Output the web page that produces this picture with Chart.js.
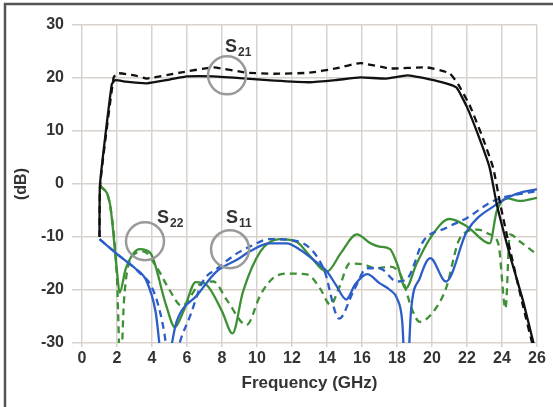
<!DOCTYPE html>
<html>
<head>
<meta charset="utf-8">
<script src="https://cdn.jsdelivr.net/npm/chart.js@4.4.1/dist/chart.umd.min.js"></script>
<style>
  html, body { margin: 0; padding: 0; background: #fff; }
  #wrap { width: 553px; height: 407px; position: relative; }
</style>
</head>
<body>
<div id="wrap"><canvas id="c" width="553" height="407"></canvas></div>
<script>
// ── data (GHz / dB) ─────────────────────────────────────
const xTicks = [0, 2, 4, 6, 8, 10, 12, 14, 16, 18, 20, 22, 24, 26];
const yTicks = [-30, -20, -10, 0, 10, 20, 30];

const s21SolidF  = [1.0, 1.03, 1.7, 1.9, 2.5, 3.7, 5.0, 6.0, 7.5, 9.4, 11, 13, 14.5, 15.9, 17.4, 18.6, 19.8, 20.8, 21.4, 22.0, 22.7, 23.3, 23.7, 24.5, 25.2, 25.8, 26.0];
const s21SolidDb = [-10, 0, 18.8, 19.6, 19.3, 19.0, 19.7, 20.3, 20.3, 19.9, 19.5, 19.2, 19.6, 20.1, 19.9, 20.5, 19.8, 19.0, 18.2, 14.5, 8.7, 3, -3.8, -14, -22, -30, -32];

const s21DashF  = [1.0, 1.04, 1.8, 2.0, 3.0, 3.7, 5.6, 7.5, 9.4, 11, 13, 14.5, 15.9, 17.6, 19.7, 21.0, 21.5, 22.2, 22.9, 23.5, 23.9, 24.5, 25.2, 25.8, 26.0];
const s21DashDb = [-10, 0, 20.0, 20.9, 20.5, 19.9, 21.0, 22.0, 21.0, 20.8, 21.0, 21.8, 22.8, 21.8, 22.0, 20.9, 18.8, 14.5, 8.7, 3, -3.8, -13, -23, -31, -33];

const s11SolidF  = [1.0, 2.3, 3.0, 3.7, 4.2, 4.7, 5.4, 6.6, 7.7, 8.9, 9.6, 10.7, 11.7, 12.5, 13.3, 14.0, 14.5, 15.1, 15.6, 16.3, 17.0, 17.6, 18.0, 18.3, 18.53, 18.8, 19.3, 19.9, 20.8, 22.0, 23.7, 24.5, 25.2, 26.0];
const s11SolidDb = [-10.4, -14, -15.8, -18.4, -24, -36, -26, -20.9, -16.5, -14.2, -12.7, -11.2, -11.2, -12.5, -14.5, -16.5, -19, -21.8, -19, -17, -18.7, -20, -21.6, -26, -40, -24, -17.8, -14, -18.4, -8.9, -3.8, -2.3, -1.5, -1];

const s11DashF  = [1.0, 2.3, 3.2, 4.1, 4.7, 5.1, 5.5, 6.2, 6.9, 7.7, 8.9, 9.6, 10.7, 12.3, 13.8, 14.7, 15.5, 16.3, 17.0, 18.0, 18.6, 19.5, 20.8, 22.0, 23.5, 26.0];
const s11DashDb = [-10.4, -14, -16.5, -20.3, -28, -38, -31, -24.7, -18.4, -16, -13, -11.8, -10.4, -10.8, -15.9, -25.4, -20.3, -15.9, -15.9, -18.4, -17.8, -10.8, -8.3, -6.4, -3.2, -1.3];

const s22SolidF  = [1.05, 1.6, 2.0, 2.15, 2.5, 3.3, 3.9, 4.8, 5.3, 5.8, 6.5, 7.1, 8.0, 8.6, 9.2, 10.2, 11.3, 12.3, 13.0, 14.0, 14.8, 15.7, 16.5, 17.0, 17.6, 18.0, 18.5, 19.1, 19.9, 21.0, 22.0, 23.3, 23.7, 24.3, 25.0, 26.0];
const s22SolidDb = [-0.3, -3.8, -16.5, -20.5, -16, -12.3, -13, -22.8, -27, -24, -18.5, -19, -24, -28.2, -20.3, -12.7, -10.4, -11, -13.5, -16.5, -13, -9.5, -11.2, -11.8, -12.3, -15, -19.7, -15.2, -10.2, -6.6, -8, -11.2, -5.1, -2.7, -3.2, -2.6];

const s22DashF  = [1.05, 1.6, 2.0, 2.2, 2.4, 2.8, 3.5, 4.3, 5.0, 5.7, 6.7, 7.5, 8.3, 9.4, 10.2, 10.9, 11.7, 12.9, 13.6, 14.2, 14.7, 15.3, 16.1, 16.8, 17.6, 18.2, 18.9, 19.3, 20.1, 20.8, 21.6, 22.6, 23.3, 23.8, 24.2, 24.45, 25.0, 26.0];
const s22DashDb = [-0.3, -4, -18, -36, -22, -14, -12.7, -15.9, -20, -23, -19, -18.4, -22, -26.6, -20.9, -17.8, -16.9, -17.1, -19.7, -22.8, -19.5, -15, -15.2, -15.9, -15.6, -17.1, -24, -26, -24, -19.7, -10.2, -8.6, -9.5, -11.4, -23.5, -9.5, -10.8, -13.3];

// circle markers & labels (data coords)
const circles = [
  { f: 8.29, db: 20.5 },
  { f: 3.6,  db: -10.8 },
  { f: 8.46, db: -12.3 }
];
const labels = [
  { f: 8.17, db: 24.9, main: 'S', sub: '21' },
  { f: 4.29, db: -7.4, main: 'S', sub: '22' },
  { f: 8.23, db: -7.4, main: 'S', sub: '11' }
];

// ── helpers ────────────────────────────────────────────
const pts = (fs, ds) => fs.map((f, i) => ({ x: f, y: ds[i] }));

const BLACK = '#111111';
const BLUE  = '#2c5ec8';
const GREEN = '#3d9035';
const GRID  = '#d9d1cb';
const TEXT  = '#333333';
const FAMILY = '"Liberation Sans", Arial, sans-serif';

function line(data, color, dashed, smooth) {
  const ds = {
    data,
    borderColor: color,
    borderWidth: 2.3,
    borderDash: dashed ? [7, 5] : [],
    pointRadius: 0,
    showLine: true,
    fill: false
  };
  if (smooth) ds.cubicInterpolationMode = 'monotone';
  else ds.tension = 0.15;
  return ds;
}

// ── extras: frame, circles, S labels ───────────────────
const extras = {
  id: 'extras',
  beforeDraw(chart) {
    const ctx = chart.ctx;
    ctx.save();
    ctx.fillStyle = '#fff';
    ctx.fillRect(0, 0, chart.width, chart.height);
    ctx.restore();
  },
  afterDraw(chart) {
    const ctx = chart.ctx;
    const xs = chart.scales.x, ys = chart.scales.y;
    ctx.save();
    // frame (top + left)
    ctx.strokeStyle = '#555';
    ctx.lineWidth = 2.5;
    ctx.beginPath();
    ctx.moveTo(5, chart.height);
    ctx.lineTo(5, 4);
    ctx.lineTo(chart.width, 4);
    ctx.stroke();

    // circles
    ctx.strokeStyle = '#9a9a9a';
    ctx.lineWidth = 2.5;
    circles.forEach(c => {
      ctx.beginPath();
      ctx.arc(xs.getPixelForValue(c.f), ys.getPixelForValue(c.db), 19, 0, Math.PI * 2);
      ctx.stroke();
    });

    // labels
    ctx.fillStyle = TEXT;
    ctx.textBaseline = 'alphabetic';
    labels.forEach(l => {
      const px = xs.getPixelForValue(l.f), py = ys.getPixelForValue(l.db);
      ctx.font = 'bold 18px ' + FAMILY;
      ctx.fillText(l.main, px, py);
      const w = ctx.measureText(l.main).width;
      ctx.font = 'bold 12px ' + FAMILY;
      ctx.fillText(l.sub, px + w + 1, py + 4);
    });
    ctx.restore();
  }
};

const tickFont = { family: FAMILY, size: 16, weight: 'bold' };

new Chart(document.getElementById('c'), {
  type: 'scatter',
  data: {
    datasets: [
      line(pts(s21SolidF, s21SolidDb), BLACK, false, false),
      line(pts(s21DashF,  s21DashDb),  BLACK, true,  false),
      line(pts(s11SolidF, s11SolidDb), BLUE,  false, true),
      line(pts(s11DashF,  s11DashDb),  BLUE,  true,  true),
      line(pts(s22SolidF, s22SolidDb), GREEN, false, true),
      line(pts(s22DashF,  s22DashDb),  GREEN, true,  true)
    ]
  },
  options: {
    responsive: false,
    animation: false,
    layout: { padding: { left: 0, right: 16, top: 25, bottom: 0 } },
    plugins: { legend: { display: false }, tooltip: { enabled: false } },
    scales: {
      x: {
        type: 'linear',
        min: 0, max: 26,
        afterBuildTicks: s => { s.ticks = xTicks.map(v => ({ value: v })); },
        afterFit: s => { s.height = 64; },
        ticks: { font: tickFont, color: TEXT, padding: 2, maxRotation: 0 },
        grid: { color: GRID, lineWidth: 1.5, tickLength: 4, tickColor: GRID },
        border: { display: false },
        title: {
          display: true, text: 'Frequency (GHz)', color: TEXT,
          font: { family: FAMILY, size: 17, weight: 'bold' },
          padding: { top: 0, bottom: 13 }
        }
      },
      y: {
        min: -30, max: 30,
        afterBuildTicks: s => { s.ticks = yTicks.map(v => ({ value: v })); },
        afterFit: s => { s.width = 82; },
        ticks: { font: tickFont, color: TEXT, padding: 8 },
        grid: { color: GRID, lineWidth: 1.5, tickLength: 10, tickColor: GRID },
        border: { display: false },
        title: {
          display: true, text: '(dB)', color: TEXT,
          font: { family: FAMILY, size: 16, weight: 'bold' },
          padding: { top: 12, bottom: 0 }
        }
      }
    }
  },
  plugins: [extras]
});
</script>
</body>
</html>
